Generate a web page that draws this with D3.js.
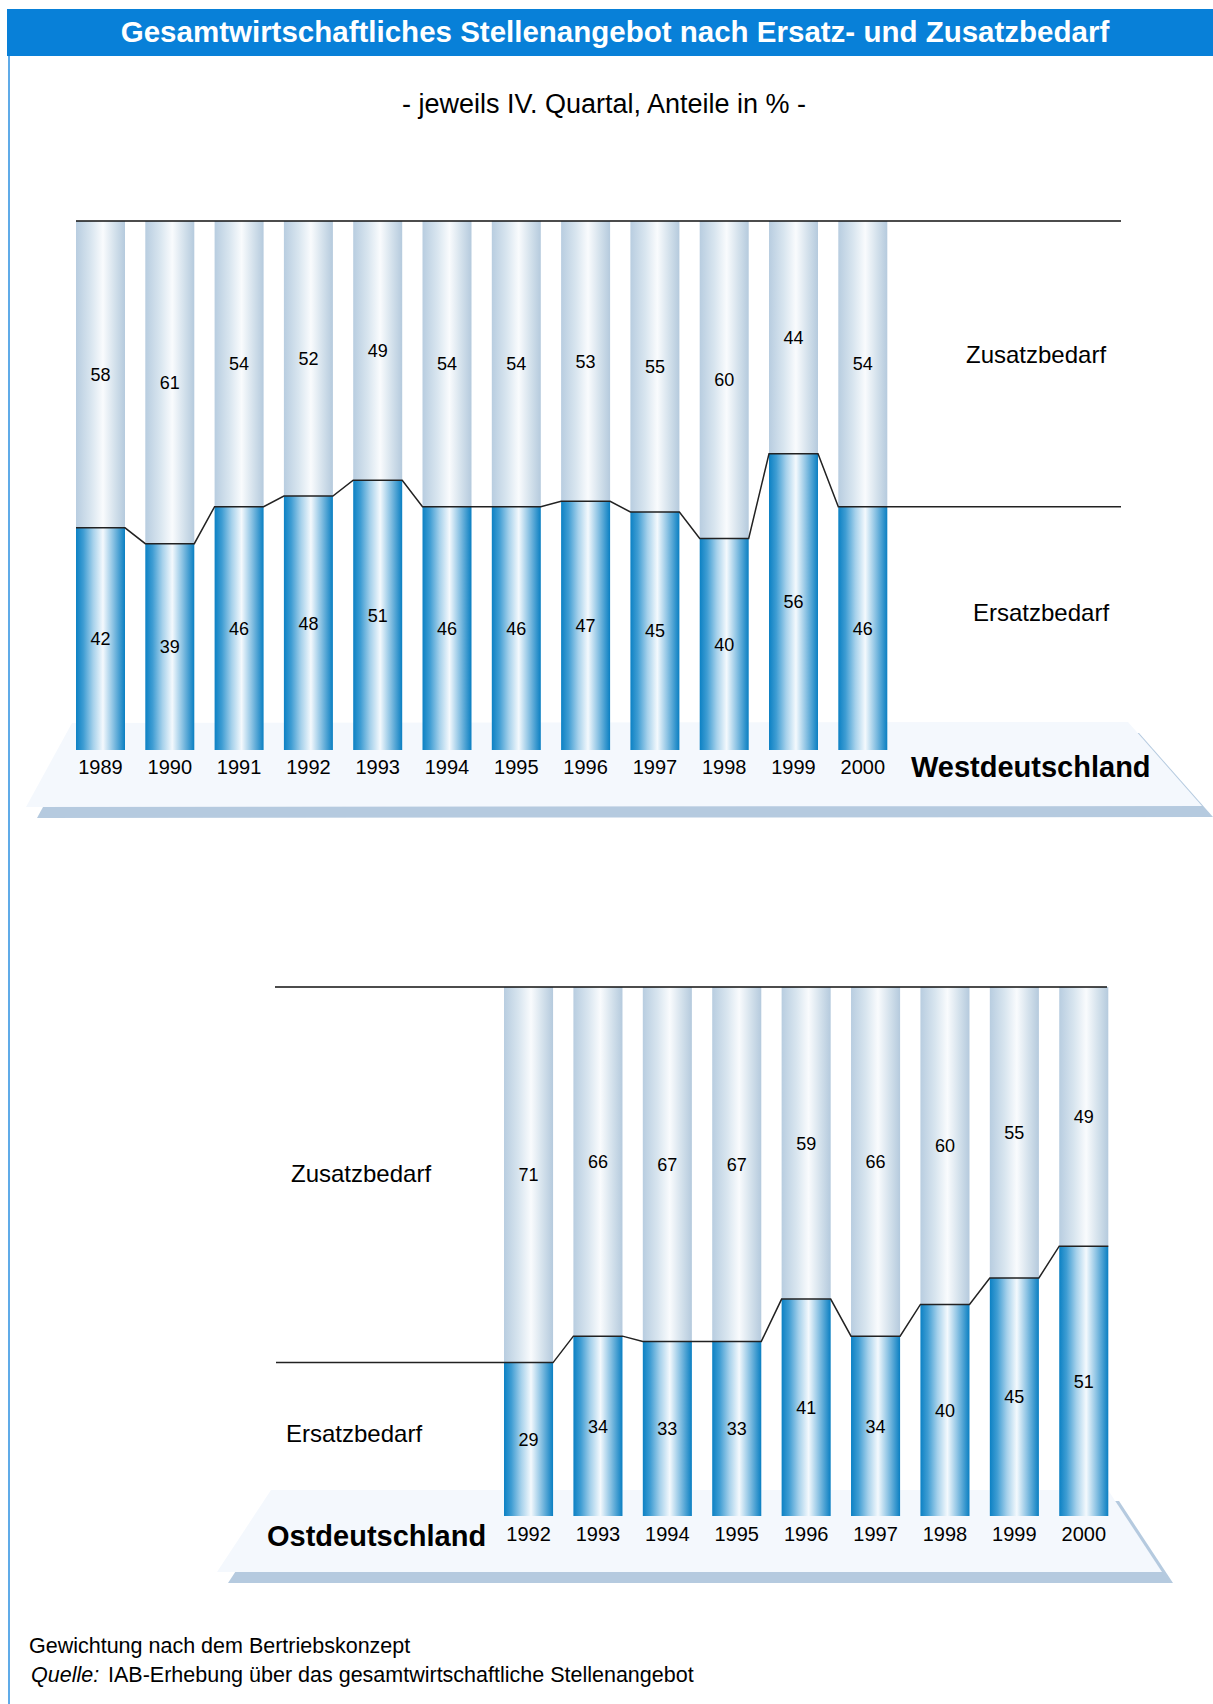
<!DOCTYPE html>
<html>
<head>
<meta charset="utf-8">
<script src="https://cdn.jsdelivr.net/npm/d3@7"></script>
<style>
  body { margin: 0; background: #fff; }
  svg { display: block; font-family: "Liberation Sans", Arial, sans-serif; }
</style>
</head>
<body>
<svg id="chart" width="1213" height="1704"></svg>
<script>
// === Data ===
const westYears = [1989, 1990, 1991, 1992, 1993, 1994, 1995, 1996, 1997, 1998, 1999, 2000];
const westErsatz = [42, 39, 46, 48, 51, 46, 46, 47, 45, 40, 56, 46];
const westZusatz = [58, 61, 54, 52, 49, 54, 54, 53, 55, 60, 44, 54];

const eastYears = [1992, 1993, 1994, 1995, 1996, 1997, 1998, 1999, 2000];
const eastErsatz = [29, 34, 33, 33, 41, 34, 40, 45, 51];
const eastZusatz = [71, 66, 67, 67, 59, 66, 60, 55, 49];

const svg = d3.select("#chart");

// === Gradients ===
const defs = svg.append("defs");
function hGradient(id, stops) {
  const g = defs.append("linearGradient").attr("id", id)
    .attr("x1", 0).attr("x2", 1).attr("y1", 0).attr("y2", 0);
  stops.forEach(s => g.append("stop").attr("offset", s[0]).attr("stop-color", s[1]));
}
hGradient("gradErsatz", [[0, "#0c81c4"], [0.15, "#3f9dd3"], [0.35, "#a6d1eb"], [0.55, "#f4f9fd"], [0.75, "#8ec4e4"], [1, "#0a7fc2"]]);
hGradient("gradZusatz", [[0, "#b8cde0"], [0.3, "#d8e5ef"], [0.55, "#f9fbfd"], [0.8, "#d2e0eb"], [1, "#b5cadd"]]);

// === Frame and title ===
svg.append("line")
  .attr("x1", 9).attr("x2", 9).attr("y1", 56).attr("y2", 1704)
  .attr("stroke", "#2b8fe0").attr("stroke-width", 1.5);

svg.append("rect")
  .attr("x", 7).attr("y", 9).attr("width", 1206).attr("height", 47)
  .attr("fill", "#0880d8");

svg.append("text")
  .attr("x", 615).attr("y", 42)
  .attr("text-anchor", "middle")
  .attr("fill", "#fff")
  .style("font-size", "29.5px").style("font-weight", "bold")
  .text("Gesamtwirtschaftliches Stellenangebot nach Ersatz- und Zusatzbedarf");

svg.append("text")
  .attr("x", 604).attr("y", 113)
  .attr("text-anchor", "middle")
  .style("font-size", "27px")
  .text("- jeweils IV. Quartal, Anteile in % -");

// === Panel drawing ===
function platform(pts) {
  const shadow = pts.map(p => [p[0] + 11, p[1] + 11]);
  svg.append("polygon").attr("points", shadow.join(" ")).attr("fill", "#b5cadf");
  svg.append("polygon").attr("points", pts.join(" ")).attr("fill", "#f4f8fd");
}

function panel(cfg) {
  const data = cfg.years.map((y, i) => ({ year: y, ersatz: cfg.ersatz[i], zusatz: cfg.zusatz[i] }));

  const x = d3.scaleBand().domain(cfg.years).range(cfg.xRange).paddingInner(0.293).paddingOuter(0);
  const y = d3.scaleLinear().domain([0, 100]).range(cfg.yRange);

  platform(cfg.platform);

  const g = svg.append("g");

  // upper part (Zusatzbedarf)
  g.selectAll(".zus").data(data).enter().append("rect")
    .attr("x", d => x(d.year))
    .attr("y", y(100))
    .attr("width", x.bandwidth())
    .attr("height", d => y(d.ersatz) - y(100))
    .attr("fill", "url(#gradZusatz)");

  // lower part (Ersatzbedarf)
  g.selectAll(".ers").data(data).enter().append("rect")
    .attr("x", d => x(d.year))
    .attr("y", d => y(d.ersatz))
    .attr("width", x.bandwidth())
    .attr("height", d => y(0) - y(d.ersatz))
    .attr("fill", "url(#gradErsatz)");

  // top line
  g.append("line")
    .attr("x1", cfg.topLine[0]).attr("x2", cfg.topLine[1])
    .attr("y1", y(100)).attr("y2", y(100))
    .attr("stroke", "#111").attr("stroke-width", 1.3);

  // boundary line between the two parts
  const pts = [];
  if (cfg.lineStart != null) pts.push([cfg.lineStart, y(data[0].ersatz)]);
  data.forEach(d => {
    pts.push([x(d.year), y(d.ersatz)]);
    pts.push([x(d.year) + x.bandwidth(), y(d.ersatz)]);
  });
  if (cfg.lineEnd != null) pts.push([cfg.lineEnd, y(data[data.length - 1].ersatz)]);
  g.append("path")
    .attr("d", d3.line()(pts))
    .attr("fill", "none")
    .attr("stroke", "#222").attr("stroke-width", 1.5);

  // value labels
  g.selectAll(".lz").data(data).enter().append("text")
    .attr("x", d => x(d.year) + x.bandwidth() / 2)
    .attr("y", d => (y(100) + y(d.ersatz)) / 2)
    .attr("dy", "0.36em")
    .attr("text-anchor", "middle")
    .style("font-size", "18px")
    .text(d => d.zusatz);

  g.selectAll(".le").data(data).enter().append("text")
    .attr("x", d => x(d.year) + x.bandwidth() / 2)
    .attr("y", d => (y(0) + y(d.ersatz)) / 2)
    .attr("dy", "0.36em")
    .attr("text-anchor", "middle")
    .style("font-size", "18px")
    .text(d => d.ersatz);

  // year labels
  g.selectAll(".yr").data(data).enter().append("text")
    .attr("x", d => x(d.year) + x.bandwidth() / 2)
    .attr("y", cfg.yearBase)
    .attr("text-anchor", "middle")
    .style("font-size", "20px")
    .text(d => d.year);

  // region name and side labels
  g.append("text")
    .attr("x", cfg.name[0]).attr("y", cfg.name[1])
    .style("font-size", "29px").style("font-weight", "bold")
    .text(cfg.name[2]);

  cfg.side.forEach(s => {
    g.append("text")
      .attr("x", s[0]).attr("y", s[1])
      .style("font-size", "24px")
      .text(s[2]);
  });
}

// === West ===
panel({
  years: westYears, ersatz: westErsatz, zusatz: westZusatz,
  xRange: [76, 887.3], yRange: [750, 221],
  topLine: [76, 1121], lineEnd: 1121,
  platform: [[72, 723], [1128, 722], [1202, 806], [26, 807]],
  yearBase: 774,
  name: [911, 777, "Westdeutschland"],
  side: [[966, 363, "Zusatzbedarf"], [973, 621, "Ersatzbedarf"]]
});

// === East ===
panel({
  years: eastYears, ersatz: eastErsatz, zusatz: eastZusatz,
  xRange: [504, 1108.3], yRange: [1516, 987],
  topLine: [275, 1107], lineStart: 276,
  platform: [[271, 1490], [1108, 1490], [1162, 1572], [217, 1572]],
  yearBase: 1541,
  name: [267, 1546, "Ostdeutschland"],
  side: [[291, 1182, "Zusatzbedarf"], [286, 1442, "Ersatzbedarf"]]
});

// === Footer ===
svg.append("text")
  .attr("x", 29).attr("y", 1653)
  .style("font-size", "21.5px")
  .text("Gewichtung nach dem Bertriebskonzept");

const src = svg.append("text")
  .attr("y", 1682)
  .style("font-size", "21.5px");
src.append("tspan").attr("x", 31).style("font-style", "italic").text("Quelle:");
src.append("tspan").attr("x", 108).text("IAB-Erhebung über das gesamtwirtschaftliche Stellenangebot");
</script>
</body>
</html>
